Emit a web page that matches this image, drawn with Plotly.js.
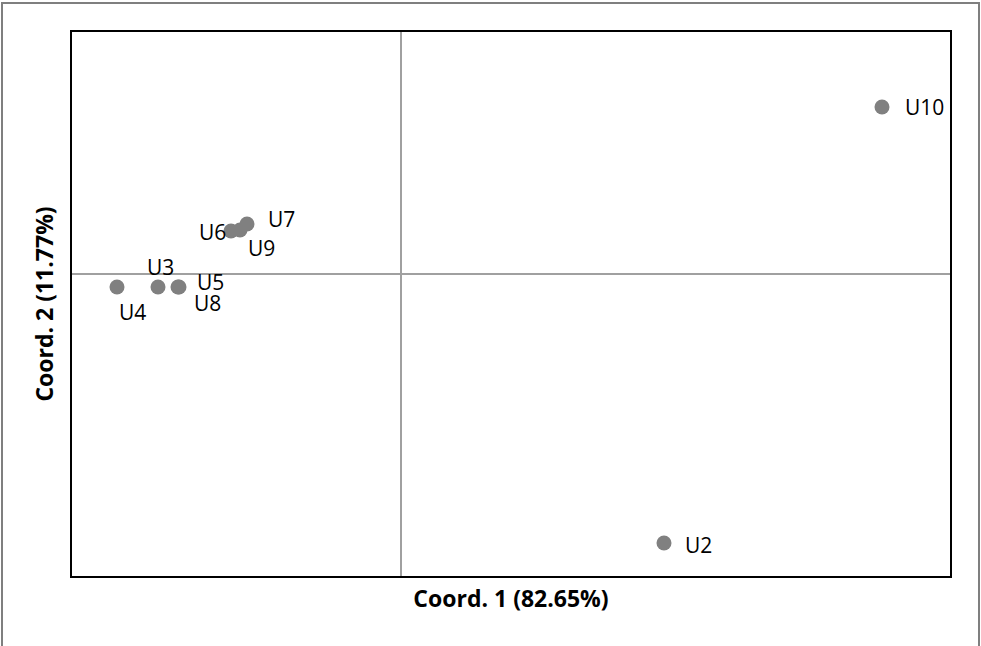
<!DOCTYPE html>
<html>
<head>
<meta charset="utf-8">
<script src="https://cdn.plot.ly/plotly-3.0.1.min.js"></script>
<style>
  html, body { margin: 0; padding: 0; background: #ffffff; }
  #chart { width: 981px; height: 646px; }
</style>
</head>
<body>
<div id="chart"></div>
<script>
// PCoA ordination of samples U2..U10
const samples = ['U10', 'U2', 'U7', 'U6', 'U9', 'U3', 'U5', 'U8', 'U4'];
const coord1 = [0.962, 0.526, -0.308, -0.340, -0.322, -0.486, -0.446, -0.444, -0.568];
const coord2 = [0.334, -0.538, 0.100, 0.086, 0.088, -0.026, -0.026, -0.026, -0.026];
const xTitle = 'Coord. 1 (82.65%)';
const yTitle = 'Coord. 2 (11.77%)';

// label placement (pixel offsets from each point)
const labelStyle = {
  U10: { xanchor: 'left', xshift: 21, yshift: 0 },
  U2:  { xanchor: 'left', xshift: 19, yshift: -2 },
  U7:  { xanchor: 'left', xshift: 19, yshift: 5 },
  U6:  { xanchor: 'right', xshift: -3, yshift: -1 },
  U9:  { xanchor: 'left', xshift: 6, yshift: -18 },
  U3:  { xanchor: 'center', xshift: 2, yshift: 20 },
  U5:  { xanchor: 'left', xshift: 17, yshift: 5 },
  U8:  { xanchor: 'left', xshift: 13, yshift: -16 },
  U4:  { xanchor: 'center', xshift: 15, yshift: -25 }
};

const font = "'Open Sans', 'DejaVu Sans', sans-serif";

const trace = {
  type: 'scatter',
  mode: 'markers',
  x: coord1,
  y: coord2,
  marker: { size: 15, color: '#808080' },
  hoverinfo: 'text',
  text: samples
};

const annotations = samples.map((s, i) => ({
  x: coord1[i], y: coord2[i], xref: 'x', yref: 'y',
  text: s, showarrow: false,
  xanchor: labelStyle[s].xanchor, yanchor: 'middle',
  xshift: labelStyle[s].xshift, yshift: labelStyle[s].yshift,
  font: { family: font, size: 21, color: '#000000' }
}));

// outer chart frame (light grey), drawn in paper coordinates
const plotW = 878, plotH = 544, ml = 72, mb = 70;
const px = v => (v - ml) / plotW;
const py = v => (646 - mb - v) / plotH;

const layout = {
  width: 981,
  height: 646,
  margin: { l: ml, r: 31, t: 32, b: mb },
  paper_bgcolor: '#ffffff',
  plot_bgcolor: '#ffffff',
  showlegend: false,
  xaxis: {
    range: [-0.658, 1.098],
    showgrid: false,
    zeroline: true, zerolinecolor: '#a0a0a0', zerolinewidth: 1.5,
    showticklabels: false, ticks: '',
    showline: true, linecolor: '#000000', linewidth: 2, mirror: true,
    title: { text: '<b>' + xTitle + '</b>', font: { family: font, size: 23, color: '#000000' }, standoff: 14 }
  },
  yaxis: {
    range: [-0.604, 0.484],
    showgrid: false,
    zeroline: true, zerolinecolor: '#a0a0a0', zerolinewidth: 1.5,
    showticklabels: false, ticks: '',
    showline: true, linecolor: '#000000', linewidth: 2, mirror: true,
    title: { text: '<b>' + yTitle + '</b>', font: { family: font, size: 23, color: '#000000' }, standoff: 10 }
  },
  annotations: annotations,
  shapes: [{
    type: 'rect', xref: 'paper', yref: 'paper',
    x0: px(2), x1: px(979), y0: py(660), y1: py(3),
    line: { color: '#7f7f7f', width: 2 }, fillcolor: 'rgba(0,0,0,0)', layer: 'below'
  }]
};

Plotly.newPlot('chart', [trace], layout, { displayModeBar: false, staticPlot: true });
</script>
</body>
</html>
